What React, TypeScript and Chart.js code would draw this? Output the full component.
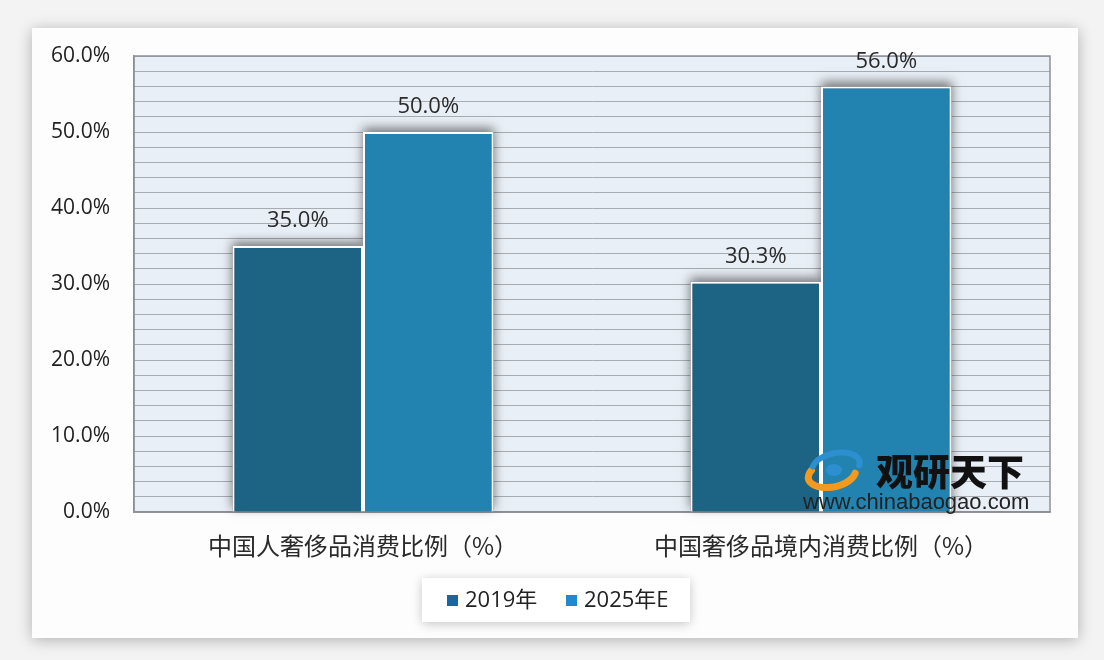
import React, { useEffect, useRef } from "react";
import { Chart, registerables } from "chart.js";
Chart.register(...registerables);

const categories = ["中国人奢侈品消费比例（%）", "中国奢侈品境内消费比例（%）"];
const seriesNames = ["2019年", "2025年E"];
const series2019 = [35.0, 30.3];
const series2025 = [50.0, 56.0];
const yMax = 60;
const yStep = 2;
const yLabelStep = 10;

const barColors = ["#1c6384", "#2283b1"];
const legendColors = ["#1b66a0", "#1f8ad0"];
const FONT = "'Open Sans', 'Noto Sans CJK SC', sans-serif";
const CJK = "'Noto Sans CJK SC', sans-serif";

const decorPlugin = {
  id: "decor",
  beforeDraw(chart: any) {
    const { ctx, chartArea: a } = chart;
    ctx.save();
    ctx.fillStyle = "#f3f3f3";
    ctx.fillRect(0, 0, chart.width, chart.height);
    ctx.shadowColor = "rgba(0,0,0,0.28)";
    ctx.shadowBlur = 14;
    ctx.shadowOffsetX = 0;
    ctx.shadowOffsetY = 2;
    ctx.fillStyle = "#fdfdfe";
    ctx.fillRect(32, 28, 1046, 610);
    ctx.shadowColor = "transparent";
    ctx.fillStyle = "#e9eff6";
    ctx.fillRect(a.left, a.top, a.right - a.left, a.bottom - a.top);
    ctx.restore();
  },
  beforeDatasetsDraw(chart: any) {
    const { ctx, chartArea: a } = chart;
    ctx.save();
    ctx.strokeStyle = "#8d9196";
    ctx.lineWidth = 1.5;
    ctx.strokeRect(a.left, a.top, a.right - a.left, a.bottom - a.top);
    // bar shadows
    ctx.shadowColor = "rgba(0,0,0,0.5)";
    ctx.shadowBlur = 10;
    ctx.shadowOffsetX = 0;
    ctx.shadowOffsetY = -4;
    ctx.fillStyle = "#888";
    chart.data.datasets.forEach((ds: any, i: number) => {
      const meta = chart.getDatasetMeta(i);
      meta.data.forEach((el: any) => {
        const w = el.width;
        ctx.fillRect(el.x - w / 2, el.y, w, el.base - el.y);
      });
    });
    ctx.restore();
  },
  afterDatasetsDraw(chart: any) {
    const { ctx } = chart;
    ctx.save();
    ctx.fillStyle = "#2a2a2a";
    ctx.font = `22px ${FONT}`;
    ctx.textAlign = "center";
    ctx.textBaseline = "middle";
    chart.data.datasets.forEach((ds: any, i: number) => {
      const meta = chart.getDatasetMeta(i);
      meta.data.forEach((el: any, j: number) => {
        ctx.fillText(ds.data[j].toFixed(1) + "%", el.x, el.y - 25);
      });
    });
    ctx.restore();
  },
  afterDraw(chart: any) {
    const { ctx } = chart;
    ctx.save();
    // legend box
    const lx = 422, ly = 578, lw = 268, lh = 44;
    ctx.shadowColor = "rgba(0,0,0,0.22)";
    ctx.shadowBlur = 10;
    ctx.shadowOffsetY = 2;
    ctx.fillStyle = "#ffffff";
    ctx.fillRect(lx, ly, lw, lh);
    ctx.shadowColor = "transparent";
    ctx.font = `22px ${FONT}`;
    ctx.textBaseline = "middle";
    ctx.textAlign = "left";
    const items = [
      { x: 447, label: seriesNames[0], color: legendColors[0] },
      { x: 566, label: seriesNames[1], color: legendColors[1] },
    ];
    items.forEach((it) => {
      ctx.fillStyle = it.color;
      ctx.fillRect(it.x, 595, 11, 11);
      ctx.fillStyle = "#222";
      ctx.fillText(it.label, it.x + 18, 601);
    });

    // watermark logo
    ctx.lineCap = "round";
    ctx.strokeStyle = "#f39a1e";
    ctx.lineWidth = 7;
    ctx.beginPath();
    ctx.ellipse(832, 474, 24, 13, -0.2, 0.3, Math.PI * 1.2);
    ctx.stroke();
    ctx.strokeStyle = "#2e8fd0";
    ctx.lineWidth = 6;
    ctx.beginPath();
    ctx.ellipse(836, 466, 24, 13, -0.2, Math.PI * 1.1, Math.PI * 2.1);
    ctx.stroke();
    ctx.fillStyle = "#2e8fd0";
    ctx.beginPath();
    ctx.ellipse(834, 470, 8, 6, 0, 0, Math.PI * 2);
    ctx.fill();

    ctx.fillStyle = "#111";
    ctx.font = `900 37px ${CJK}`;
    ctx.textAlign = "left";
    ctx.textBaseline = "middle";
    ctx.fillText("观研天下", 876, 472);
    ctx.font = `22px 'Liberation Sans', Arial, sans-serif`;
    ctx.fillStyle = "#222";
    ctx.fillText("www.chinabaogao.com", 803, 503);
    ctx.restore();
  },
};

export default function App() {
  const ref = useRef<HTMLCanvasElement>(null);
  useEffect(() => {
    if (!ref.current) return;
    const chart = new Chart(ref.current, {
      type: "bar",
      data: {
        labels: categories,
        datasets: [
          {
            label: seriesNames[0],
            data: series2019,
            backgroundColor: barColors[0],
            borderColor: "#ffffff",
            borderWidth: 2,
            categoryPercentage: 0.57,
            barPercentage: 1.0,
          },
          {
            label: seriesNames[1],
            data: series2025,
            backgroundColor: barColors[1],
            borderColor: "#ffffff",
            borderWidth: 2,
            categoryPercentage: 0.57,
            barPercentage: 1.0,
          },
        ],
      },
      options: {
        responsive: false,
        animation: false,
        devicePixelRatio: 1,
        layout: { padding: { top: 56, right: 54, left: 0, bottom: 0 } },
        plugins: {
          legend: { display: false },
          tooltip: { enabled: false },
        },
        scales: {
          x: {
            grid: { display: false, drawTicks: false },
            border: { display: true, color: "#8d9196", width: 1.5 },
            ticks: {
              padding: 19,
              color: "#2a2a2a",
              font: { family: CJK, size: 24 },
            },
            afterFit: (s: any) => {
              s.height = 148;
            },
          },
          y: {
            min: 0,
            max: yMax,
            grid: { color: "#a8acb1", lineWidth: 1, drawTicks: false },
            border: { display: true, color: "#8d9196", width: 1.5 },
            ticks: {
              stepSize: yStep,
              padding: 24,
              color: "#222",
              font: { family: FONT, size: 21 },
              autoSkip: false,
              callback: (v: any) =>
                Number(v) % yLabelStep === 0 ? Number(v).toFixed(1) + "%" : "",
            },
            afterFit: (s: any) => {
              s.width = 134;
            },
          },
        },
      },
      plugins: [decorPlugin],
    });
    return () => chart.destroy();
  }, []);
  return (
    <div style={{ position: "fixed", left: 0, top: 0, width: 1104, height: 660 }}>
      <canvas ref={ref} width={1104} height={660} style={{ display: "block" }} />
    </div>
  );
}
